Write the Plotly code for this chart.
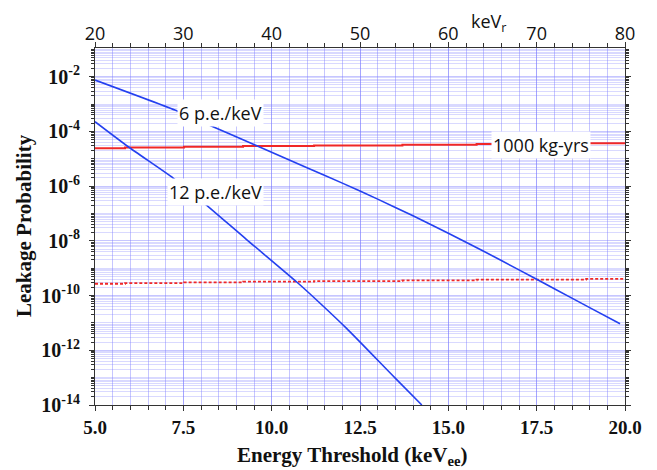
import plotly.graph_objects as go

# ---- data ----
pe6_x = [5.0, 7.26, 8.11, 9.53, 11.0, 12.0, 13.0, 14.0, 15.0, 16.0, 17.0, 18.0, 19.0, 19.86]
pe6_y = [7.57e-3, 6.07e-4, 1.98e-4, 3.19e-5, 4.68e-6, 1.29e-6, 3.35e-7, 8.22e-8, 1.91e-8,
         4.17e-9, 8.71e-10, 1.78e-10, 3.63e-11, 9.33e-12]

pe12_x = [5.0, 5.94, 7.22, 7.97, 9.29, 10.71, 11.37, 12.12, 13.49, 14.25]
pe12_y = [2.26e-4, 2.75e-5, 1.94e-6, 3.24e-7, 1.12e-8, 3.13e-10, 5.25e-11, 6.31e-12, 9.77e-14, 1.0e-14]

exp_x = [5.0, 5.85, 7.52, 9.19, 11.2, 13.7, 15.8, 18.9, 20.0]
exp1000_y = [2.45e-5, 2.60e-5, 2.75e-5, 2.92e-5, 3.09e-5, 3.27e-5, 3.47e-5, 3.67e-5, 3.70e-5]
exp_dot_y = [2.70e-10, 2.86e-10, 3.03e-10, 3.21e-10, 3.40e-10, 3.60e-10, 3.82e-10, 4.05e-10, 4.10e-10]

x_ticks = [5.0, 7.5, 10.0, 12.5, 15.0, 17.5, 20.0]
top_ticks = [20, 30, 40, 50, 60, 70, 80]
y_exps = list(range(-14, 0, 2))
y_tickvals = [10.0 ** e for e in y_exps]
y_ticktext = [f"<b>10<sup>{e}</sup></b>" for e in y_exps]
y_minor = sorted([10.0 ** e for e in range(-13, 0, 2)] +
                 [m * 10.0 ** e for e in range(-15, 0) for m in range(2, 10)])

BLUE = "#2440f0"
RED = "#f02828"
GRID = "rgba(120,120,255,0.42)"
GRID_MINOR = "rgba(130,130,255,0.30)"
serif = "Liberation Serif"
sans = "Open Sans"

# window geometry: the page body adds an 8px margin around the plot div
WIN_W, WIN_H, OFF = 657, 470, 8
PL, PR, PT, PB = 95, 625, 48, 405          # plot area in window pixels
W, H = WIN_W - OFF, WIN_H - OFF
ML, MT = PL - OFF, PT - OFF
MR, MB = W - (PR - OFF), H - (PB - OFF)
PW, PH = PR - PL, PB - PT


def px_to_paper(px, py):
    return (px - PL) / PW, (PB - py) / PH


fig = go.Figure()
fig.add_trace(go.Scatter(x=exp_x, y=exp1000_y, mode="lines", line=dict(color=RED, width=2, shape="hv"),
                         hoverinfo="skip", showlegend=False))
fig.add_trace(go.Scatter(x=exp_x, y=exp_dot_y, mode="lines",
                         line=dict(color=RED, width=1.8, dash="3px,2px", shape="hv"),
                         hoverinfo="skip", showlegend=False))
fig.add_trace(go.Scatter(x=pe6_x, y=pe6_y, mode="lines", line=dict(color=BLUE, width=1.6, shape="spline", smoothing=0.6),
                         hoverinfo="skip", showlegend=False))
fig.add_trace(go.Scatter(x=pe12_x, y=pe12_y, mode="lines", line=dict(color=BLUE, width=1.6, shape="spline", smoothing=0.6),
                         hoverinfo="skip", showlegend=False))
# invisible trace to carry the top (keV_r) axis
fig.add_trace(go.Scatter(x=[top_ticks[0], top_ticks[-1]], y=[1e-20, 1e-20], xaxis="x2", mode="lines",
                         line=dict(width=0), hoverinfo="skip", showlegend=False))

bx, by = px_to_paper(352, 456)
lx, ly = px_to_paper(24, 226)
kx, ky = px_to_paper(488, 22)

fig.update_layout(
    width=W, height=H,
    margin=dict(l=ML, r=MR, t=MT, b=MB, pad=0),
    paper_bgcolor="white", plot_bgcolor="white",
    xaxis=dict(
        range=[5, 20], tickvals=x_ticks, ticktext=[f"<b>{v:.1f}</b>" for v in x_ticks],
        automargin=False,
        showgrid=True, gridcolor=GRID, gridwidth=1,
        ticks="outside", ticklen=5, tickcolor="#333", tickwidth=1, ticklabelstandoff=0,
        showline=True, linecolor="#333", linewidth=1.2, zeroline=False,
        minor=dict(dtick=0.5, showgrid=True, gridcolor=GRID, gridwidth=1,
                   ticks="outside", ticklen=4, tickcolor="#333"),
        tickfont=dict(family=serif, size=19, color="#111"),
    ),
    xaxis2=dict(
        range=[20, 80], overlaying="x", side="top", anchor="y", automargin=False,
        tickvals=top_ticks, showgrid=False, zeroline=False,
        ticks="outside", ticklen=5, tickcolor="#333", ticklabelstandoff=-5,
        showline=True, linecolor="#333", linewidth=1.2,
        minor=dict(dtick=2, ticks="outside", ticklen=4, tickcolor="#333", showgrid=False),
        tickfont=dict(family=sans, size=18, color="#111"),
    ),
    yaxis=dict(
        type="log", range=[-14, -0.95], automargin=False,
        tickmode="array", tickvals=y_tickvals, ticktext=y_ticktext,
        showgrid=True, gridcolor=GRID, gridwidth=1,
        ticks="outside", ticklen=5, tickcolor="#333", ticklabelstandoff=5,
        showline=True, linecolor="#333", linewidth=1.2, mirror="ticks", zeroline=False,
        minor=dict(tickmode="array", tickvals=y_minor, showgrid=True, gridcolor=GRID_MINOR, gridwidth=1,
                   ticks="outside", ticklen=3, tickcolor="#333"),
        tickfont=dict(family=serif, size=20, color="#111"),
    ),
    annotations=[
        dict(x=8.54, y=-3.34, xref="x", yref="y", text="6 p.e./keV", showarrow=False,
             bgcolor="white", font=dict(family=sans, size=18, color="#111"), borderpad=1),
        dict(x=8.40, y=-6.21, xref="x", yref="y", text="12 p.e./keV", showarrow=False,
             bgcolor="white", font=dict(family=sans, size=18, color="#111"), borderpad=1),
        dict(x=17.62, y=-4.50, xref="x", yref="y", text="1000 kg-yrs", showarrow=False,
             bgcolor="white", font=dict(family=sans, size=18, color="#111"), borderpad=1),
        dict(x=kx, y=ky, xref="paper", yref="paper",
             text="keV<sub>r</sub>", showarrow=False, xanchor="center", yanchor="middle",
             font=dict(family=sans, size=18, color="#111")),
        dict(x=bx, y=by, xref="paper", yref="paper",
             text="<b>Energy Threshold (keV<sub>ee</sub>)</b>", showarrow=False,
             xanchor="center", yanchor="middle", font=dict(family=serif, size=21, color="#111")),
        dict(x=lx, y=ly, xref="paper", yref="paper", textangle=-90,
             text="<b>Leakage Probability</b>", showarrow=False,
             xanchor="center", yanchor="middle", font=dict(family=serif, size=21, color="#111")),
    ],
)

fig.write_html("out.html")
